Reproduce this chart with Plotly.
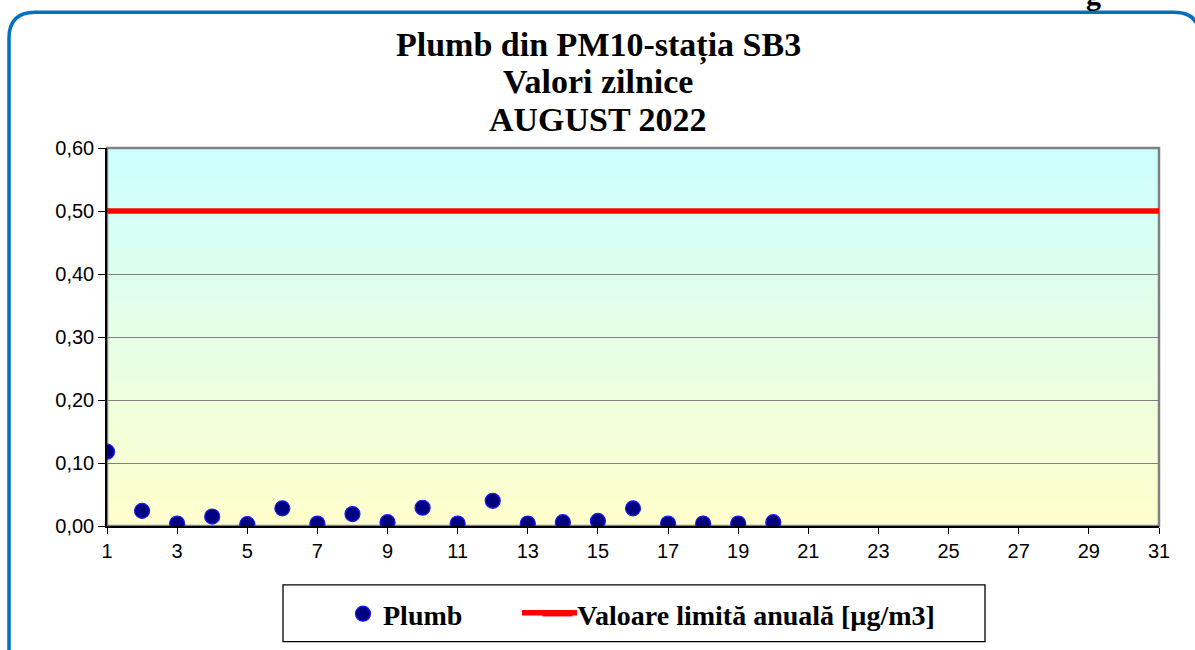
import plotly.graph_objects as go

days = list(range(1, 21))
plumb = [0.118, 0.024, 0.004, 0.015, 0.003, 0.028, 0.004, 0.019, 0.006, 0.029,
         0.004, 0.040, 0.004, 0.006, 0.008, 0.028, 0.004, 0.004, 0.004, 0.006]
limit_days = [1, 31]
limit_values = [0.5, 0.5]
x_ticks = list(range(1, 32, 2))
y_ticks = [0.0, 0.1, 0.2, 0.3, 0.4, 0.5, 0.6]
title_lines = ["Plumb din PM10-stația SB3", "Valori zilnice", "AUGUST 2022"]

W, H = 1195, 650
L, R, T, B = 107, 1159, 148, 527
pw, ph = R - L, B - T


def px(x):
    return (x - L) / pw


def py(y):
    return (B - y) / ph


fig = go.Figure()
fig.add_trace(go.Scatter(
    x=days, y=plumb, mode="markers", name="Plumb" + "\u00a0" * 10,
    marker=dict(color="#000080", size=15, line=dict(color="#1a1aff", width=1.2)),
))
fig.add_trace(go.Scatter(
    x=limit_days, y=limit_values, mode="lines", name="Valoare limită anuală [µg/m3]",
    line=dict(color="#ff0000", width=5.5),
))

shapes = []
# gradient background stripes: cyan (top) -> light green -> light yellow (bottom)
top = (204, 255, 255)
bot = (255, 255, 204)
n = 80
for i in range(n):
    t = (i + 0.5) / n
    c = tuple(round(bot[k] + (top[k] - bot[k]) * t) for k in range(3))
    shapes.append(dict(type="rect", xref="x domain", yref="y domain",
                       x0=0, x1=1, y0=i / n, y1=(i + 1) / n + 0.002,
                       fillcolor="rgb(%d,%d,%d)" % c, line=dict(width=0), layer="below"))
# plot border (gray top/right)
shapes.append(dict(type="rect", xref="x domain", yref="y domain", x0=0, x1=1, y0=0, y1=1,
                   line=dict(color="#808080", width=2.5), layer="below"))

# rounded outer chart border
x0, y0 = px(9), py(12)
x1, y1 = px(1200), py(670)
rx, ry = 26 / pw, 26 / ph
path = (f"M {x0},{y1} L {x0},{y0 - ry} Q {x0},{y0} {x0 + rx},{y0} "
        f"L {x1 - rx},{y0} Q {x1},{y0} {x1},{y0 - ry} L {x1},{y1}")
shapes.append(dict(type="path", xref="paper", yref="paper", path=path,
                   line=dict(color="#0070c0", width=3.5)))

# legend box
shapes.append(dict(type="rect", xref="paper", yref="paper",
                   x0=px(283), x1=px(985), y0=py(586), y1=py(643),
                   fillcolor="white", line=dict(color="black", width=1.3)))
# longer legend line sample, as in the original legend
shapes.append(dict(type="line", xref="paper", yref="paper",
                   x0=px(522), x1=px(577), y0=py(614), y1=py(614),
                   line=dict(color="#ff0000", width=5.5)))

fig.update_layout(
    width=W, height=H,
    margin=dict(l=L, r=W - R, t=T, b=H - B),
    paper_bgcolor="white",
    plot_bgcolor="rgba(0,0,0,0)",
    separators=",.",
    shapes=shapes,
    showlegend=True,
    legend=dict(
        orientation="h", x=px(343), xanchor="left", y=py(614), yanchor="middle",
        bgcolor="rgba(0,0,0,0)", borderwidth=0,
        font=dict(family="Liberation Serif", size=28, color="black", weight="bold"),
        itemwidth=30,
    ),
    xaxis=dict(
        range=[1, 31], tickvals=x_ticks, ticktext=[str(v) for v in x_ticks],
        showgrid=False, zeroline=False, showline=True, linecolor="black", linewidth=1.5,
        ticks="outside", ticklen=6, tickcolor="black",
        tickfont=dict(family="Liberation Sans", size=20, color="black"),
    ),
    yaxis=dict(
        range=[0, 0.6], tickvals=y_ticks, tickformat=".2f",
        showgrid=True, gridcolor="#808080", gridwidth=1.3, zeroline=False,
        showline=True, linecolor="black", linewidth=1.5,
        ticks="outside", ticklen=7, tickcolor="black",
        tickfont=dict(family="Liberation Sans", size=20, color="black"),
    ),
)

title_y = [45, 81, 119]
for txt, yy in zip(title_lines, title_y):
    fig.add_annotation(text=txt, xref="paper", yref="paper", x=px(598), y=py(yy),
                       xanchor="center", yanchor="middle", showarrow=False,
                       font=dict(family="Liberation Serif", size=34, color="black", weight="bold"))

fig.add_annotation(text="g", xref="paper", yref="paper", x=px(1093), y=py(-6),
                   xanchor="center", yanchor="middle", showarrow=False,
                   font=dict(family="Liberation Serif", size=30, color="black", weight="bold"))

fig.write_html("out.html", config={"displayModeBar": False},
               post_script="document.body.style.margin='0';")
